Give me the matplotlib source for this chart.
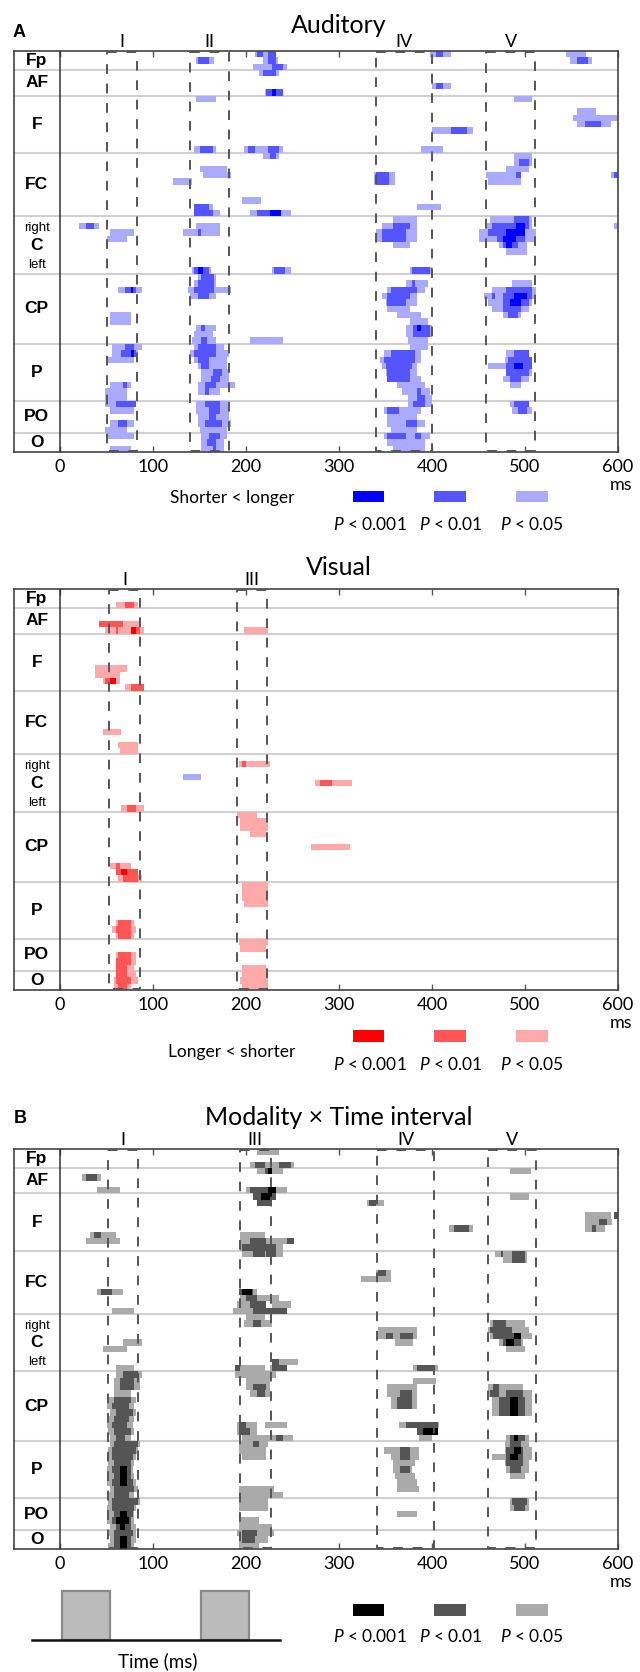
import numpy as np
import matplotlib
matplotlib.use("Agg")
import matplotlib.pyplot as plt
from matplotlib.colors import ListedColormap
from matplotlib.patches import Rectangle

plt.rcParams['font.family'] = ['Lato', 'DejaVu Sans']
plt.rcParams['mathtext.fontset'] = 'custom'
plt.rcParams['mathtext.it'] = 'Lato:italic'
plt.rcParams['mathtext.rm'] = 'Lato'

W, H = 640, 1672

# electrode groups (rows from top to bottom)
groups = ['Fp', 'AF', 'F', 'FC', 'C', 'CP', 'P', 'PO', 'O']
group_rows = [3, 4, 9, 10, 9, 11, 9, 5, 3]
n_rows = sum(group_rows)
tick_ms = [0, 100, 200, 300, 400, 500, 600]
p_labels = ['$P$ < 0.001', '$P$ < 0.01', '$P$ < 0.05']

# analysis windows (ms)
aud_windows = [(50, 83, 'I'), (140, 182, 'II'), (340, 400, 'IV'), (458, 511, 'V')]
vis_windows = [(53, 86, 'I'), (190, 223, 'III')]
mod_windows = [(52, 84, 'I'), (193, 227, 'III'), (341, 402, 'IV'), (460, 512, 'V')]

# significant clusters: (first row, last row, start ms, end ms)
aud_p05 = [
    (1, 1, 146, 166), (0, 0, 210, 233), (1, 1, 218, 234), (2, 2, 208, 245), (3, 3, 214, 237),
    (6, 6, 220, 241), (7, 7, 146, 169), (15, 15, 144, 169), (15, 15, 198, 241), (16, 16, 218, 237),
    (18, 18, 150, 181), (19, 19, 154, 184), (20, 20, 122, 142), (23, 23, 196, 215), (24, 24, 144, 163),
    (25, 25, 144, 173), (25, 25, 205, 247),
    (0, 0, 398, 419), (0, 0, 543, 566), (1, 1, 549, 572), (5, 5, 400, 419), (7, 7, 487, 508),
    (9, 9, 555, 575), (10, 10, 551, 600), (11, 11, 557, 592), (12, 12, 401, 443), (15, 15, 387, 412),
    (16, 17, 487, 508), (18, 18, 480, 505), (19, 19, 458, 497), (19, 20, 338, 361), (20, 20, 461, 497),
    (19, 19, 591, 600), (24, 24, 384, 410),
    (26, 26, 358, 385), (27, 27, 346, 384), (28, 29, 341, 384), (30, 30, 358, 377), (26, 26, 462, 507),
    (27, 27, 458, 509), (28, 29, 450, 513), (30, 30, 473, 502), (31, 31, 479, 502), (27, 27, 595, 600),
    (27, 27, 21, 42), (28, 28, 54, 79), (29, 29, 50, 72), (27, 28, 146, 173), (28, 28, 133, 147),
    (34, 34, 375, 400), (34, 34, 142, 162), (34, 34, 228, 247),
    (37, 37, 62, 88), (35, 35, 149, 169), (36, 36, 145, 169), (37, 37, 138, 185), (38, 38, 140, 169),
    (41, 42, 54, 75), (43, 43, 146, 167), (44, 44, 143, 165), (45, 45, 142, 169), (45, 45, 205, 241),
    (36, 36, 372, 395), (37, 37, 353, 393), (38, 38, 346, 384), (39, 39, 350, 384), (40, 40, 353, 376),
    (41, 41, 362, 387), (42, 42, 376, 396), (43, 44, 373, 401), (45, 45, 374, 396),
    (36, 36, 486, 509), (37, 37, 463, 511), (38, 38, 456, 511), (39, 39, 459, 509), (40, 40, 463, 504),
    (41, 41, 477, 495),
    (46, 46, 56, 88), (47, 47, 56, 85), (48, 48, 51, 80), (46, 46, 143, 175), (47, 47, 140, 182),
    (48, 48, 143, 180), (49, 49, 149, 180), (52, 52, 54, 77), (53, 54, 49, 73), (50, 51, 153, 182),
    (52, 52, 149, 189), (53, 53, 149, 172),
    (46, 46, 375, 395), (47, 47, 348, 387), (48, 48, 344, 387), (49, 49, 346, 384), (50, 50, 350, 384),
    (51, 51, 351, 387), (52, 52, 362, 391), (53, 53, 369, 398), (54, 54, 374, 400),
    (47, 47, 480, 505), (48, 48, 478, 509), (49, 49, 461, 509), (50, 50, 479, 509), (51, 51, 477, 505),
    (52, 52, 484, 495),
    (55, 55, 48, 82), (56, 56, 54, 79), (58, 58, 54, 79), (59, 59, 48, 73), (55, 56, 146, 182),
    (57, 57, 149, 182), (58, 58, 149, 184), (59, 59, 150, 179),
    (55, 55, 374, 400), (56, 56, 348, 387), (57, 57, 351, 385), (58, 58, 351, 391), (59, 59, 355, 384),
    (55, 55, 484, 505), (56, 56, 486, 507),
    (60, 60, 51, 79), (62, 62, 54, 77), (60, 60, 152, 179), (61, 61, 152, 176), (62, 62, 152, 175),
    (60, 60, 349, 398), (61, 61, 353, 391), (62, 62, 358, 391),
]
aud_p01 = [
    (1, 1, 149, 159), (0, 0, 212, 218), (0, 1, 224, 231), (2, 2, 229, 239), (3, 3, 218, 233),
    (6, 6, 222, 239), (15, 15, 150, 165), (15, 15, 202, 210), (15, 15, 224, 235), (16, 16, 226, 233),
    (24, 24, 145, 161), (25, 25, 144, 165), (25, 25, 213, 228), (0, 0, 405, 413), (1, 1, 555, 568),
    (5, 5, 404, 413), (11, 11, 565, 582), (12, 12, 419, 438), (17, 17, 494, 505), (19, 19, 490, 497),
    (19, 20, 341, 354), (19, 19, 595, 600), (27, 27, 29, 36), (28, 28, 147, 153), (27, 27, 358, 376),
    (28, 29, 346, 373), (26, 26, 487, 503), (27, 27, 464, 505), (28, 28, 460, 499), (29, 29, 470, 500),
    (30, 30, 477, 493), (34, 34, 145, 161), (34, 34, 230, 242), (34, 34, 378, 398), (37, 37, 70, 82),
    (35, 35, 152, 166), (36, 36, 147, 166), (37, 37, 145, 166), (38, 38, 148, 160), (43, 43, 153, 157),
    (45, 45, 152, 158), (36, 36, 378, 382), (37, 37, 355, 384), (38, 38, 351, 376), (39, 39, 353, 373),
    (43, 44, 380, 398), (37, 37, 480, 507), (38, 38, 463, 468), (38, 38, 477, 509), (39, 39, 477, 505),
    (40, 40, 477, 495), (41, 41, 482, 491), (46, 46, 70, 79), (47, 47, 66, 82), (46, 46, 147, 167),
    (47, 47, 145, 167), (48, 48, 147, 161), (49, 49, 153, 161), (52, 52, 68, 72), (50, 50, 164, 174),
    (51, 51, 162, 172), (52, 52, 157, 168), (53, 53, 157, 161), (47, 47, 355, 382), (48, 48, 348, 382),
    (49, 49, 350, 378), (50, 50, 351, 377), (51, 51, 351, 376), (53, 53, 384, 387), (54, 54, 384, 392),
    (47, 47, 487, 504), (48, 48, 482, 507), (49, 49, 480, 507), (50, 50, 480, 504), (51, 51, 484, 495),
    (55, 55, 59, 82), (58, 58, 62, 73), (55, 55, 155, 172), (56, 56, 160, 171), (57, 57, 159, 168),
    (58, 58, 157, 174), (55, 55, 381, 391), (56, 56, 351, 364), (58, 58, 373, 384), (55, 55, 487, 504),
    (56, 56, 491, 502), (60, 60, 160, 171), (61, 61, 158, 169), (62, 62, 163, 168), (60, 60, 353, 371),
    (60, 60, 382, 389),
]
aud_p001 = [
    (6, 6, 227, 233), (25, 25, 226, 238), (27, 27, 490, 500), (28, 28, 480, 500), (29, 29, 477, 490),
    (30, 30, 480, 486), (34, 34, 147, 154), (37, 37, 75, 78), (43, 43, 384, 389), (38, 38, 488, 502),
    (39, 39, 483, 495), (47, 47, 75, 79), (49, 49, 489, 498),
]

vis_p05 = [
    (2, 2, 59, 84), (5, 5, 42, 86), (6, 6, 48, 90), (6, 6, 198, 223), (12, 12, 38, 73), (13, 13, 38, 63),
    (14, 14, 46, 65), (15, 15, 70, 90), (22, 22, 46, 66), (24, 24, 62, 84), (25, 25, 63, 85),
    (27, 27, 192, 226), (30, 30, 274, 314), (34, 34, 66, 90), (35, 35, 190, 211), (36, 37, 194, 223),
    (38, 38, 203, 222), (40, 40, 270, 312), (43, 43, 54, 75), (44, 44, 59, 84), (45, 45, 62, 88),
    (46, 48, 195, 223), (49, 49, 198, 223), (52, 52, 59, 80), (53, 53, 56, 82), (54, 54, 59, 80),
    (55, 55, 193, 223), (56, 56, 194, 222), (57, 58, 60, 82), (59, 59, 59, 79), (59, 59, 196, 222),
    (60, 60, 196, 222), (61, 61, 194, 225), (62, 62, 195, 223), (60, 60, 59, 82), (61, 61, 58, 83),
    (62, 62, 58, 75),
]
vis_p01 = [
    (2, 2, 70, 79), (5, 5, 42, 67), (6, 6, 59, 62), (6, 6, 75, 86), (14, 14, 48, 61), (15, 15, 75, 90),
    (27, 27, 196, 201), (30, 30, 280, 292), (34, 34, 72, 82), (43, 43, 59, 65), (44, 44, 61, 83),
    (45, 45, 68, 83), (52, 52, 62, 75), (53, 53, 59, 77), (54, 54, 62, 75), (57, 57, 62, 75),
    (58, 58, 59, 75), (59, 59, 61, 72), (60, 60, 61, 73), (61, 61, 59, 77), (62, 62, 62, 73),
]
vis_p001 = [(6, 6, 77, 82), (14, 14, 54, 59), (44, 44, 66, 71)]
vis_reverse_p05 = [(29, 29, 132, 153)]

mod_p05 = [
    (0, 0, 211, 235), (2, 2, 205, 251), (3, 3, 211, 240), (4, 4, 25, 45), (6, 6, 41, 63), (6, 6, 200, 244),
    (7, 7, 208, 231), (8, 8, 213, 228), (13, 13, 32, 59), (13, 13, 194, 219), (14, 14, 29, 65),
    (14, 14, 194, 251), (15, 15, 194, 239), (16, 16, 197, 239), (22, 22, 39, 67), (22, 22, 191, 211),
    (23, 23, 194, 237), (24, 24, 190, 222), (24, 24, 227, 249), (25, 25, 186, 243), (25, 25, 55, 81),
    (26, 26, 200, 219), (27, 27, 198, 229), (30, 30, 69, 89), (31, 31, 46, 71), (33, 33, 229, 256),
    (34, 34, 188, 219), (34, 34, 226, 244), (34, 34, 59, 79), (35, 35, 60, 89), (35, 35, 189, 232),
    (36, 37, 58, 86), (36, 37, 199, 226), (38, 38, 58, 77), (38, 38, 205, 226),
    (3, 3, 485, 506), (7, 7, 483, 503), (8, 8, 330, 349), (12, 12, 418, 444), (10, 10, 565, 593),
    (10, 10, 595, 600), (11, 11, 565, 594), (12, 12, 565, 586), (16, 16, 469, 502), (17, 17, 477, 502),
    (19, 19, 341, 357), (20, 20, 323, 357), (28, 29, 342, 385), (30, 30, 361, 381), (27, 27, 462, 500),
    (28, 28, 460, 504), (29, 29, 462, 509), (30, 30, 473, 498), (31, 31, 480, 500), (34, 34, 379, 406),
    (36, 36, 379, 403), (37, 37, 351, 384), (38, 38, 353, 384), (37, 37, 461, 498), (38, 38, 459, 507),
    (39, 39, 52, 82), (40, 40, 50, 80), (41, 41, 54, 82), (42, 42, 52, 80), (43, 43, 50, 78),
    (44, 44, 52, 80), (45, 45, 54, 76),
    (43, 43, 190, 211), (43, 43, 219, 245), (44, 44, 190, 212), (45, 45, 197, 250),
    (39, 40, 355, 384), (43, 43, 365, 408), (44, 44, 386, 406), (45, 45, 386, 399), (39, 41, 463, 509),
    (45, 45, 481, 505),
    (46, 46, 54, 86), (47, 47, 52, 84), (48, 48, 50, 82), (49, 49, 52, 80), (50, 50, 50, 78),
    (51, 51, 52, 80), (52, 52, 50, 82), (53, 53, 54, 84), (54, 54, 52, 80),
    (46, 46, 193, 225), (47, 47, 193, 222), (48, 48, 195, 222), (53, 53, 193, 230),
    (54, 54, 193, 239), (47, 47, 349, 386), (48, 48, 356, 386), (49, 49, 358, 382), (50, 50, 358, 378),
    (51, 51, 360, 382), (52, 52, 362, 384), (53, 53, 362, 386), (46, 46, 478, 505), (47, 47, 478, 507),
    (48, 48, 463, 507), (49, 49, 478, 505), (50, 50, 480, 503), (51, 51, 483, 500),
    (55, 55, 52, 86), (56, 56, 50, 82), (57, 57, 52, 80), (58, 58, 50, 80), (59, 59, 54, 82),
    (55, 55, 193, 223), (56, 56, 193, 225), (58, 58, 193, 214), (59, 59, 193, 228),
    (57, 57, 362, 384), (55, 55, 483, 505), (56, 56, 485, 503),
    (60, 60, 52, 82), (61, 61, 54, 82), (62, 62, 52, 80),
    (60, 60, 190, 230), (61, 61, 193, 223), (62, 62, 193, 214),
]
mod_p01 = [
    (2, 2, 210, 219), (2, 2, 235, 247), (3, 3, 220, 229), (4, 4, 29, 41), (6, 6, 204, 233), (7, 7, 208, 231),
    (8, 8, 213, 228), (13, 13, 37, 43), (14, 14, 204, 222), (14, 14, 245, 251), (15, 15, 197, 233),
    (16, 16, 208, 219), (16, 16, 222, 233), (22, 22, 43, 56), (22, 22, 193, 207), (23, 23, 201, 211),
    (24, 24, 204, 222), (25, 25, 208, 243), (27, 27, 207, 217), (33, 33, 229, 235), (34, 34, 188, 194),
    (34, 34, 228, 244), (35, 35, 68, 84), (36, 37, 64, 81), (37, 37, 209, 222), (38, 38, 211, 219),
    (8, 8, 331, 339), (12, 12, 423, 439), (10, 10, 595, 600), (11, 11, 579, 588), (12, 12, 573, 577),
    (16, 16, 486, 499), (16, 16, 474, 477), (17, 17, 486, 499), (19, 19, 342, 350), (29, 29, 350, 358),
    (29, 29, 366, 379), (27, 27, 466, 480), (28, 28, 462, 486), (29, 29, 466, 487), (30, 30, 475, 495),
    (34, 34, 385, 402), (38, 38, 366, 378), (37, 37, 466, 473), (38, 38, 462, 473), (38, 38, 480, 498),
    (39, 39, 58, 76), (40, 40, 56, 74), (41, 41, 60, 78), (42, 42, 58, 74), (43, 43, 56, 72),
    (44, 44, 58, 76), (45, 45, 60, 70),
    (43, 43, 193, 200), (44, 44, 192, 205), (45, 45, 232, 240), (39, 40, 362, 378),
    (43, 43, 373, 406), (44, 44, 384, 390), (39, 41, 473, 499), (45, 45, 485, 500),
    (46, 46, 58, 84), (47, 47, 56, 82), (48, 48, 56, 78), (49, 49, 58, 76), (50, 50, 56, 76),
    (51, 51, 58, 76), (52, 52, 56, 78), (53, 53, 58, 80), (54, 54, 58, 74),
    (46, 46, 209, 214), (47, 48, 366, 377), (50, 50, 366, 375), (46, 46, 485, 496), (47, 49, 481, 498),
    (50, 50, 485, 496),
    (55, 55, 56, 84), (56, 56, 56, 80), (57, 57, 58, 78), (58, 58, 56, 76), (59, 59, 60, 76),
    (55, 55, 486, 502), (56, 56, 488, 499),
    (60, 60, 58, 78), (61, 61, 58, 76), (62, 62, 58, 76),
    (60, 60, 197, 212), (61, 61, 195, 210),
]
mod_p001 = [
    (3, 3, 225, 228), (6, 6, 225, 232), (7, 7, 215, 227), (22, 22, 197, 206), (29, 29, 489, 496),
    (30, 30, 480, 489), (39, 41, 484, 493), (44, 44, 390, 406), (45, 45, 487, 493), (47, 47, 487, 495),
    (48, 48, 484, 493), (50, 52, 63, 72), (57, 57, 63, 72), (58, 58, 60, 74), (59, 59, 64, 70),
    (61, 62, 63, 72),
]

# stimulus schematic (ms)
stim_start = [2, 152]
stim_end = [54, 203]

blue = ['#aaaaff', '#5555ff', '#0000ff']
red = ['#ffaaaa', '#ff5555', '#ff0000']
gray = ['#aaaaaa', '#555555', '#000000']

t_edges = np.arange(0, 602, 2)
row_edges = np.arange(n_rows + 1)


def raster(levels):
    grid = np.zeros((n_rows, len(t_edges) - 1))
    for lev, segs in enumerate(levels, start=1):
        for r0, r1, t0, t1 in segs:
            c0, c1 = int(round(t0 / 2)), int(round(t1 / 2))
            grid[r0:r1 + 1, c0:c1] = np.maximum(grid[r0:r1 + 1, c0:c1], lev)
    return np.ma.masked_equal(grid, 0)


fig = plt.figure(figsize=(W / 100, H / 100), dpi=100)
ov = fig.add_axes([0, 0, 1, 1])
ov.set_xlim(0, W)
ov.set_ylim(H, 0)
ov.axis('off')


def panel(top, bottom, layers, windows):
    ax = fig.add_axes([14 / W, 1 - bottom / H, (618 - 14) / W, (bottom - top) / H])
    ax.set_xlim(-49.5, 600)
    ax.set_ylim(n_rows, 0)
    for levels, colors in layers:
        ax.pcolormesh(t_edges, row_edges, raster(levels), cmap=ListedColormap(colors),
                      vmin=0.5, vmax=3.5, zorder=2, antialiased=False)
    for b in np.cumsum(group_rows)[:-1]:
        ax.axhline(b, color='#d0d0d0', lw=1.5, zorder=1)
    ax.axvline(0, color='#333333', lw=1.1, zorder=3)
    for t0, t1, name in windows:
        ax.add_patch(Rectangle((t0, 0.2), t1 - t0, n_rows - 0.4, fill=False, ec='#555555',
                               lw=1.4, ls=(0, (5, 5)), zorder=4))
        ax.annotate(name, xy=((t0 + t1) / 2, 1), xycoords=('data', 'axes fraction'),
                    xytext=(0, 4), textcoords='offset pixels', ha='center', va='baseline',
                    fontsize=13)
    starts = np.concatenate([[0], np.cumsum(group_rows)[:-1]])
    for name, s, n in zip(groups, starts, group_rows):
        ax.text(-25, s + n / 2, name, ha='center', va='center', fontsize=12.5,
                fontweight='bold', family='Liberation Sans')
        if name == 'C':
            ax.text(-25, s + 1.8, 'right', ha='center', va='center', fontsize=9.5,
                    family='Liberation Sans')
            ax.text(-25, s + 7.6, 'left', ha='center', va='center', fontsize=9.5,
                    family='Liberation Sans')
    ax.set_xticks(tick_ms)
    ax.set_yticks([])
    ax.tick_params(axis='x', direction='in', top=True, bottom=True, length=4, width=1,
                   color='#555555', labelsize=13, pad=5)
    for sp in ax.spines.values():
        sp.set_color('#444444')
        sp.set_linewidth(1.2)
    ax.annotate('ms', xy=(600, 0), xycoords=('data', 'axes fraction'), xytext=(3, -33),
                textcoords='offset pixels', ha='center', va='center', fontsize=13)
    return ax


panel(51, 452, [((aud_p05, aud_p01, aud_p001), blue)], aud_windows)
panel(589, 990, [((vis_p05, vis_p01, vis_p001), red), ((vis_reverse_p05, [], []), blue)], vis_windows)
panel(1149, 1549, [((mod_p05, mod_p01, mod_p001), gray)], mod_windows)

# titles and panel letters
ov.text(339, 33, 'Auditory', ha='center', va='baseline', fontsize=18)
ov.text(339, 575, 'Visual', ha='center', va='baseline', fontsize=18)
ov.text(339, 1125, 'Modality × Time interval', ha='center', va='baseline', fontsize=18)
ov.text(13, 37, 'A', ha='left', va='baseline', fontsize=13, fontweight='bold', family='Liberation Sans')
ov.text(14, 1123, 'B', ha='left', va='baseline', fontsize=13, fontweight='bold', family='Liberation Sans')

# legends
sw_x = [(353, 384), (434, 466), (516, 548)]
lab_x = [370, 451, 532]


def legend(colors, sw_top, sw_bot, lab_base, text=None, text_base=None):
    for (x0, x1), c, lx, lab in zip(sw_x, colors[::-1], lab_x, p_labels):
        ov.add_patch(Rectangle((x0, sw_top), x1 - x0, sw_bot - sw_top, color=c, lw=0))
        ov.text(lx, lab_base, lab, ha='center', va='baseline', fontsize=12.5)
    if text:
        ov.text(232, text_base, text, ha='center', va='baseline', fontsize=12.5)


legend(blue, 491, 502, 530, 'Shorter < longer', 503)
legend(red, 1030, 1042, 1070, 'Longer < shorter', 1057)
legend(gray, 1604, 1616, 1642)

# stimulus schematic
sax = fig.add_axes([14 / W, 1 - 1640 / H, (618 - 14) / W, 49 / H])
sax.set_xlim(-49.5, 600)
sax.set_ylim(0, 1)
sax.axis('off')
sax.bar(stim_start, 1, width=np.array(stim_end) - np.array(stim_start), align='edge',
        color='#bbbbbb', edgecolor='#8a8a8a', lw=1.6, clip_on=False)
sax.plot([-30, 237], [0, 0], color='#111111', lw=1.8, clip_on=False)
ov.text(158, 1667, 'Time (ms)', ha='center', va='baseline', fontsize=13.5)

fig.savefig('out.png', dpi=100)
